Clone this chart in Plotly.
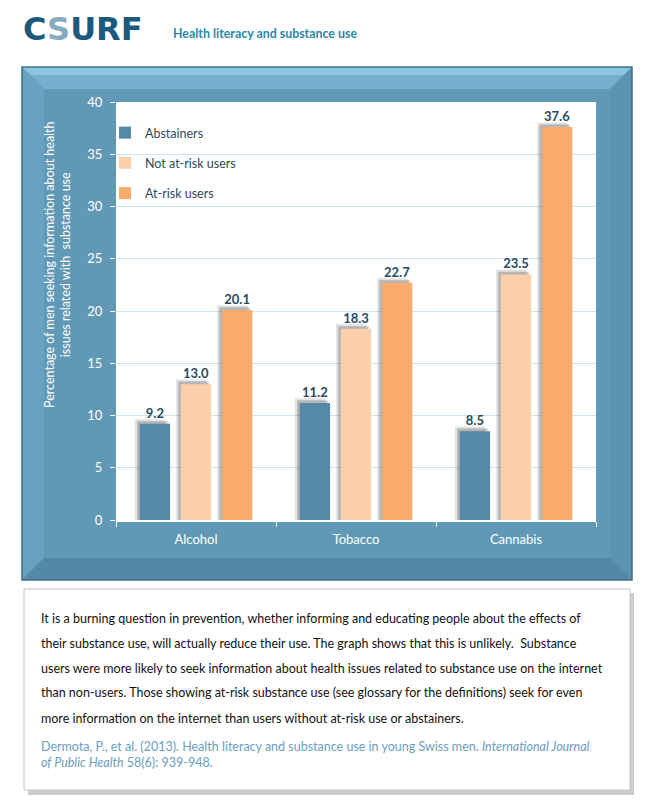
import plotly.graph_objects as go

W, H = 655, 808

categories = ["Alcohol", "Tobacco", "Cannabis"]
series_names = ["Abstainers", "Not at-risk users", "At-risk users"]
abstainers = [9.2, 11.2, 8.5]
not_at_risk = [13.0, 18.3, 23.5]
at_risk = [20.1, 22.7, 37.6]
series_values = [abstainers, not_at_risk, at_risk]
series_colors = ["#5489a8", "#fbcfac", "#f8ab6b"]
y_ticks = [0, 5, 10, 15, 20, 25, 30, 35, 40]

title_text = "Health literacy and substance use"
y_title = "Percentage of men seeking information about health<br>issues related with  substance use"
body_lines = [
    "It is a burning question in prevention, whether informing and educating people about the effects of",
    "their substance use, will actually reduce their use. The graph shows that this is unlikely.  Substance",
    "users were more likely to seek information about health issues related to substance use on the internet",
    "than non-users. Those showing at-risk substance use (see glossary for the definitions) seek for even",
    "more information on the internet than users without at-risk use or abstainers.",
]
citation_lines = [
    "Dermota, P., et al. (2013). Health literacy and substance use in young Swiss men. <i>International Journal</i>",
    "<i>of Public Health</i> 58(6): 939-948.",
]

FONT = "Lato"


def px(x):
    return x / W


def py(y):
    return 1 - y / H


def path(points):
    return "M " + " L ".join(f"{px(x)},{py(y)}" for x, y in points) + " Z"


fig = go.Figure()

bar_w = 0.19
centers = [-0.257, 0.0, 0.257]

# soft shadows (two layers)
for shift, extra, alpha in [(0.03, 0.45, 0.14), (0.016, 0.25, 0.28)]:
    for vals, c in zip(series_values, centers):
        fig.add_trace(go.Bar(
            x=categories, y=[v + extra for v in vals], width=bar_w,
            offset=c - bar_w / 2 - shift,
            marker=dict(color=f"rgba(60,60,60,{alpha})", line=dict(width=0)),
            showlegend=False, hoverinfo="skip",
        ))

for i, (name, vals, col, c) in enumerate(zip(series_names, series_values, series_colors, centers)):
    fig.add_trace(go.Bar(
        x=categories, y=vals, name=name, width=bar_w, offset=c - bar_w / 2,
        marker=dict(color=col, line=dict(width=0)),
        text=[f"<b>{v:.1f}</b>" for v in vals], textposition="outside",
        textfont=dict(family=FONT, size=13, color="#284b62"),
        cliponaxis=False, legendgroup=f"g{i}",
    ))

shapes = []
x0, x1, y0, y1, b = 22, 632, 67, 580, 22
shapes.append(dict(type="rect", xref="paper", yref="paper", x0=px(x0), x1=px(x1), y0=py(y1), y1=py(y0),
                   fillcolor="#6099b6", line=dict(width=0), layer="below"))
shapes.append(dict(type="path", xref="paper", yref="paper", path=path([(x0, y0), (x1, y0), (x1 - b, y0 + b), (x0 + b, y0 + b)]),
                   fillcolor="#76afcd", line=dict(width=0), layer="below"))
shapes.append(dict(type="path", xref="paper", yref="paper", path=path([(x0, y0), (x1, y0), (x1 - 8, y0 + 8), (x0 + 8, y0 + 8)]),
                   fillcolor="#8cc5e2", line=dict(width=0), layer="below"))
shapes.append(dict(type="path", xref="paper", yref="paper", path=path([(x0, y0), (x0 + b, y0 + b), (x0 + b, y1 - b), (x0, y1)]),
                   fillcolor="#69a2c0", line=dict(width=0), layer="below"))
shapes.append(dict(type="path", xref="paper", yref="paper", path=path([(x1, y0), (x1 - b, y0 + b), (x1 - b, y1 - b), (x1, y1)]),
                   fillcolor="#5a93b0", line=dict(width=0), layer="below"))
shapes.append(dict(type="path", xref="paper", yref="paper", path=path([(x0, y1), (x0 + b, y1 - b), (x1 - b, y1 - b), (x1, y1)]),
                   fillcolor="#5389a6", line=dict(width=0), layer="below"))
shapes.append(dict(type="rect", xref="paper", yref="paper", x0=px(x0), x1=px(x1), y0=py(y1), y1=py(y0),
                   fillcolor="rgba(0,0,0,0)", line=dict(width=1.5, color="#3f6e87"), layer="below"))
shapes.append(dict(type="rect", xref="paper", yref="paper", x0=px(116), x1=px(596), y0=py(520), y1=py(102),
                   fillcolor="white", line=dict(width=0), layer="below"))
shapes.append(dict(type="rect", xref="paper", yref="paper", x0=px(28), x1=px(634), y0=py(795), y1=py(593),
                   fillcolor="#cccccc", line=dict(width=0), layer="below"))
shapes.append(dict(type="rect", xref="paper", yref="paper", x0=px(24), x1=px(630), y0=py(790), y1=py(589),
                   fillcolor="white", line=dict(width=1, color="#c4c4c4"), layer="below"))

annotations = []
annotations.append(dict(x=px(21), y=py(29), xref="paper", yref="paper", xanchor="left", yanchor="middle",
                        text="<b>C<span style='color:#86aac0'>S</span>URF</b>", showarrow=False,
                        font=dict(family="DejaVu Sans", size=32, color="#1c5a7d")))
annotations.append(dict(x=px(171), y=py(33), xref="paper", yref="paper", xanchor="left", yanchor="middle",
                        text=f"<b>{title_text}</b>", showarrow=False,
                        font=dict(family=FONT, size=12.4, color="#2c87a8")))
annotations.append(dict(x=px(58), y=py(265), xref="paper", yref="paper", xanchor="center", yanchor="middle",
                        text=y_title, textangle=-90, showarrow=False,
                        font=dict(family=FONT, size=12.5, color="white")))
body_y = [618, 643, 668, 692, 718]
for t, yy in zip(body_lines, body_y):
    annotations.append(dict(x=px(39), y=py(yy), xref="paper", yref="paper", xanchor="left", yanchor="middle",
                            text=t, showarrow=False, font=dict(family=FONT, size=12.5, color="#111111")))
cit_y = [746, 762]
for t, yy in zip(citation_lines, cit_y):
    annotations.append(dict(x=px(39), y=py(yy), xref="paper", yref="paper", xanchor="left", yanchor="middle",
                            text=t, showarrow=False, font=dict(family=FONT, size=12.5, color="#6a9ec0")))

fig.update_layout(
    width=W, height=H,
    margin=dict(l=0, r=0, t=0, b=0, pad=0, autoexpand=False),
    paper_bgcolor="white",
    plot_bgcolor="rgba(0,0,0,0)",
    barmode="overlay",
    showlegend=True,
    legend=dict(x=px(105), y=py(118), xanchor="left", yanchor="top",
                bgcolor="rgba(0,0,0,0)", font=dict(family=FONT, size=12.5, color="#2e4a5c"),
                tracegroupgap=11, itemwidth=30),
    xaxis=dict(domain=[px(116), px(596)], type="category", showgrid=False,
               showline=True, linecolor="white", linewidth=1.5,
               ticks="outside", tickson="boundaries", tickcolor="white", ticklen=5,
               ticklabelstandoff=7, automargin=False,
               tickfont=dict(family=FONT, size=13, color="white"), fixedrange=True),
    yaxis=dict(domain=[py(520), py(102)], range=[0, 40], tickvals=y_ticks,
               showgrid=True, gridcolor="#cfe3ee", gridwidth=1, zeroline=False,
               showline=False, ticks="outside", tickcolor="white", ticklen=5,
               ticklabelstandoff=5, automargin=False,
               tickfont=dict(family=FONT, size=13, color="white"), fixedrange=True),
    shapes=shapes,
    annotations=annotations,
)

post = (
    "document.documentElement.style.margin='0';document.documentElement.style.overflow='hidden';"
    "document.body.style.margin='0';document.body.style.overflow='hidden';"
    "var d=document.getElementById('{plot_id}');d.style.position='fixed';d.style.top='0px';d.style.left='0px';"
)
fig.write_html("out.html", post_script=post, config={"displayModeBar": False})
